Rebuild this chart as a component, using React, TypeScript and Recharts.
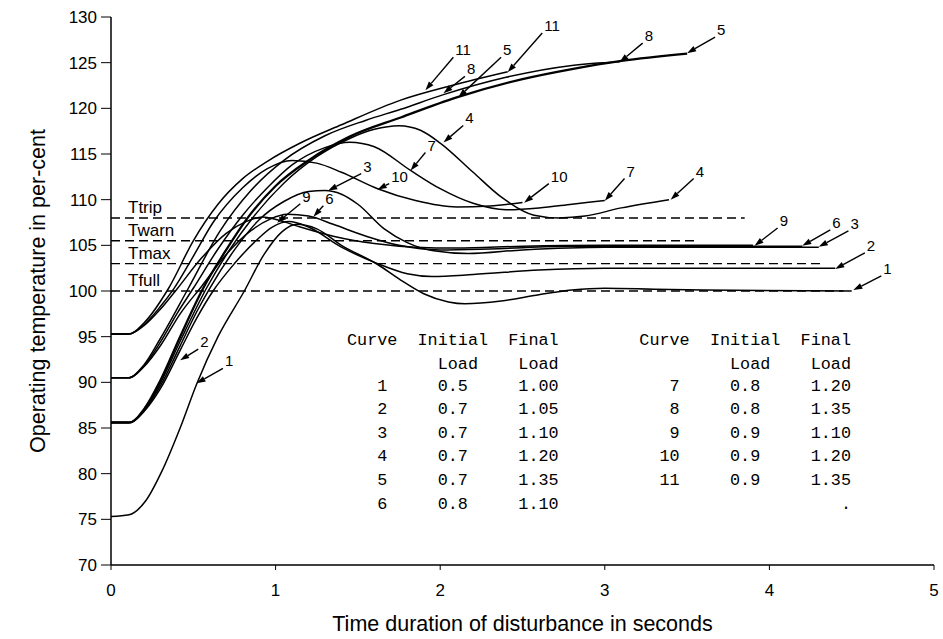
import { LineChart, Line, XAxis, YAxis, ReferenceLine } from "recharts";

const font = "'Liberation Sans', Arial, Helvetica, sans-serif";
const mono = "'Liberation Mono', 'Courier New', monospace";

const xTicks = [0, 1, 2, 3, 4, 5];
const yTicks = [70, 75, 80, 85, 90, 95, 100, 105, 110, 115, 120, 125, 130];

// [seconds, per-cent]
const curve1 = [[0, 75.3], [0.11, 75.5], [0.21, 77], [0.31, 80.3], [0.42, 85], [0.52, 89.8], [0.65, 95], [0.81, 100], [0.93, 104], [1.04, 106.5], [1.13, 107.3], [1.25, 106.8], [1.4, 105], [1.62, 102.9], [1.76, 101.2], [1.9, 99.7], [2.05, 98.8], [2.15, 98.6], [2.37, 98.9], [2.6, 99.6], [2.8, 100.1], [3.0, 100.3], [3.3, 100.2], [3.6, 100.1], [4.5, 100]];
const curve2 = [[0, 85.6], [0.11, 85.6], [0.21, 87], [0.3, 89.3], [0.42, 93.5], [0.52, 97], [0.62, 100], [0.75, 103], [0.88, 105.5], [0.98, 107], [1.08, 107.6], [1.2, 107], [1.4, 104.8], [1.62, 103], [1.8, 101.9], [1.95, 101.6], [2.2, 101.8], [2.6, 102.3], [3.0, 102.5], [4.4, 102.5]];
const curve3 = [[0, 85.6], [0.11, 85.6], [0.21, 87.1], [0.3, 89.6], [0.42, 94], [0.52, 97.7], [0.6, 100.3], [0.75, 104.5], [0.9, 107.8], [1.05, 109.8], [1.2, 110.9], [1.3, 111], [1.4, 110.6], [1.5, 109.5], [1.66, 106.8], [1.8, 105.3], [1.96, 104.4], [2.17, 104.1], [2.5, 104.5], [3.0, 104.8], [4.3, 104.8]];
const curve4 = [[0, 85.6], [0.11, 85.6], [0.21, 87.2], [0.3, 89.9], [0.42, 94.5], [0.58, 100.3], [0.72, 104.5], [0.86, 108], [1.05, 111.8], [1.25, 114.7], [1.45, 116.7], [1.6, 117.7], [1.75, 118.1], [1.88, 117.6], [2.0, 116.2], [2.2, 113], [2.37, 110.3], [2.57, 108.3], [2.72, 108], [2.88, 108.2], [3.1, 109.1], [3.39, 110]];
const curve5 = [[0, 85.6], [0.11, 85.6], [0.21, 87.3], [0.3, 90.2], [0.42, 95], [0.56, 100.3], [0.7, 104.5], [0.83, 108], [1.0, 111.5], [1.2, 114.3], [1.45, 116.9], [1.76, 119], [2.1, 121.2], [2.5, 123.2], [2.8, 124.3], [3.1, 125.2], [3.5, 126]];
const curve6 = [[0, 90.5], [0.11, 90.5], [0.2, 91.7], [0.3, 94], [0.42, 97.5], [0.55, 100.5], [0.7, 104], [0.85, 106.6], [0.97, 107.9], [1.07, 108.4], [1.2, 108.2], [1.35, 107.3], [1.55, 106], [1.75, 105], [2.0, 104.5], [2.3, 104.6], [2.8, 104.9], [4.2, 104.9]];
const curve7 = [[0, 90.5], [0.11, 90.5], [0.2, 91.8], [0.3, 94.4], [0.4, 97.5], [0.5, 100.3], [0.65, 104.6], [0.8, 108.3], [0.95, 111.3], [1.1, 113.8], [1.3, 115.7], [1.45, 116.3], [1.6, 115.8], [1.82, 113.2], [2.0, 111.2], [2.2, 109.6], [2.4, 108.9], [2.6, 109.1], [2.8, 109.5], [3.0, 109.9]];
const curve8 = [[0, 90.5], [0.11, 90.5], [0.2, 91.9], [0.3, 94.8], [0.47, 100.3], [0.66, 106.5], [0.85, 111], [1.05, 114.3], [1.3, 117], [1.55, 118.7], [1.76, 119.9], [2.02, 121.5], [2.4, 123.4], [2.8, 124.7], [3.09, 125.1]];
const curve9 = [[0, 95.3], [0.11, 95.3], [0.2, 96.2], [0.3, 98], [0.4, 100.2], [0.55, 103.6], [0.7, 106.3], [0.82, 107.6], [0.92, 108.1], [1.01, 107.8], [1.15, 107], [1.35, 106], [1.6, 105.2], [1.85, 104.8], [2.1, 104.7], [2.5, 104.9], [3.0, 105], [3.9, 105]];
const curve10 = [[0, 95.3], [0.11, 95.3], [0.2, 96.3], [0.3, 98.3], [0.38, 100.2], [0.5, 103.8], [0.62, 107.5], [0.8, 111.3], [0.95, 113.4], [1.1, 114.3], [1.25, 114], [1.4, 113], [1.62, 111.2], [1.85, 109.9], [2.1, 109.2], [2.3, 109.3], [2.5, 109.7]];
const curve11 = [[0, 95.3], [0.11, 95.3], [0.2, 96.5], [0.35, 100.3], [0.5, 105.5], [0.65, 109.5], [0.8, 112.3], [0.95, 114.2], [1.15, 116.2], [1.4, 118.2], [1.76, 120.9], [2.07, 122.5], [2.41, 124]];

const curves = [curve1, curve2, curve3, curve4, curve5, curve6, curve7, curve8, curve9, curve10, curve11];

const thresholdNames = ["Ttrip", "Twarn", "Tmax", "Tfull"];
const thresholdValues = [108, 105.5, 103, 100];
const thresholdEnds = [3.85, 3.57, 4.33, 4.45];

// curve number labels: text, tail (near text), tip (on the curve)
const arrows = [
  { t: "1", from: [4.68, 101.65], to: [4.51, 100.1] },
  { t: "2", from: [4.58, 104.18], to: [4.4, 102.42] },
  { t: "3", from: [4.48, 106.59], to: [4.3, 104.84] },
  { t: "6", from: [4.37, 106.7], to: [4.2, 104.95] },
  { t: "9", from: [4.05, 106.9], to: [3.91, 104.95] },
  { t: "4", from: [3.54, 112.31], to: [3.4, 110.0] },
  { t: "7", from: [3.12, 112.31], to: [3.0, 109.89] },
  { t: "10", from: [2.66, 111.76], to: [2.51, 109.67] },
  { t: "5", from: [3.67, 127.8], to: [3.5, 126.04] },
  { t: "8", from: [3.23, 127.14], to: [3.09, 125.05] },
  { t: "11", from: [2.62, 128.24], to: [2.41, 123.96] },
  { t: "5", from: [2.37, 125.6], to: [2.11, 121.21] },
  { t: "8", from: [2.15, 123.5], to: [2.02, 121.65] },
  { t: "11", from: [2.08, 125.6], to: [1.91, 121.98] },
  { t: "4", from: [2.14, 118.13], to: [2.02, 116.26] },
  { t: "7", from: [1.91, 115.16], to: [1.82, 113.19] },
  { t: "10", from: [1.69, 111.76], to: [1.62, 111.1] },
  { t: "3", from: [1.52, 112.86], to: [1.32, 110.99] },
  { t: "9", from: [1.15, 109.56], to: [1.01, 107.47] },
  { t: "6", from: [1.29, 109.34], to: [1.23, 108.13] },
  { t: "2", from: [0.53, 93.63], to: [0.42, 92.42] },
  { t: "1", from: [0.68, 91.54], to: [0.52, 89.89] }
];

const leftCurve = ["1", "2", "3", "4", "5", "6"];
const leftInitial = ["0.5", "0.7", "0.7", "0.7", "0.7", "0.8"];
const leftFinal = ["1.00", "1.05", "1.10", "1.20", "1.35", "1.10"];
const rightCurve = ["7", "8", "9", "10", "11"];
const rightInitial = ["0.8", "0.8", "0.9", "0.9", "0.9"];
const rightFinal = ["1.20", "1.35", "1.10", "1.20", "1.35"];
const strayMark = ".";

function Threshold(props: any) {
  const { x1, y1, x2, y2, name } = props;
  return (
    <g>
      <line x1={x1} y1={y1} x2={x2} y2={y2} stroke="#000" strokeWidth={1.4} strokeDasharray="9 5" />
      <text x={x1 + 17} y={y1 - 5} fontSize={17} fontFamily={font} fill="#000">{name}</text>
    </g>
  );
}

function Arrow(props: any) {
  const { x1, y1, x2, y2, text } = props;
  const a = Math.atan2(y2 - y1, x2 - x1);
  const c = Math.cos(a), s = Math.sin(a);
  const bx = x2 - 9 * c, by = y2 - 9 * s;
  return (
    <g>
      <line x1={x1} y1={y1} x2={bx} y2={by} stroke="#000" strokeWidth={1.4} />
      <polygon points={`${x2},${y2} ${bx - 3 * s},${by + 3 * c} ${bx + 3 * s},${by - 3 * c}`} fill="#000" />
      <text x={x1 + 2} y={y1 - 2} fontSize={15} fontFamily={font} fill="#000">{text}</text>
    </g>
  );
}

// monospace table grid
const tx0 = 347;
const cw = 10.08;
const rowY = (i: number) => 385 + i * 23.6 + 5.5;

function Table() {
  const cell = (s: string, col: number, y: number, end = false) => (
    <text key={`${col}-${y}-${s}`} x={tx0 + col * cw} y={y} textAnchor={end ? "end" : "start"}>{s}</text>
  );
  return (
    <g fontFamily={mono} fontSize={16.8} fill="#000">
      {cell("Curve", 0, 345)}
      {cell("Initial", 7, 345)}
      {cell("Final", 16, 345)}
      {cell("Load", 9, 369)}
      {cell("Load", 17, 369)}
      {cell("Curve", 29, 345)}
      {cell("Initial", 36, 345)}
      {cell("Final", 45, 345)}
      {cell("Load", 38, 369)}
      {cell("Load", 46, 369)}
      {leftCurve.map((c, i) => cell(c, 4, rowY(i), true))}
      {leftInitial.map((c, i) => cell(c, 9, rowY(i)))}
      {leftFinal.map((c, i) => cell(c, 17, rowY(i)))}
      {rightCurve.map((c, i) => cell(c, 33, rowY(i), true))}
      {rightInitial.map((c, i) => cell(c, 38, rowY(i)))}
      {rightFinal.map((c, i) => cell(c, 46, rowY(i)))}
      {cell(strayMark, 49, rowY(5))}
    </g>
  );
}

export default function App() {
  const tick = { fill: "#000", fontSize: 17, fontFamily: font };
  return (
    <div style={{ position: "absolute", left: 0, top: 0, width: 943, height: 639, background: "#fff" }}>
      <LineChart width={943} height={639} margin={{ top: 17, right: 9, bottom: 44, left: 51 }}>
        <XAxis
          type="number"
          dataKey="x"
          domain={[0, 5]}
          ticks={xTicks}
          allowDataOverflow
          height={30}
          tickSize={5}
          tickMargin={14}
          tick={tick}
          axisLine={{ stroke: "#000", strokeWidth: 1.5 }}
          tickLine={{ stroke: "#000" }}
          label={{ value: "Time duration of disturbance in seconds", position: "bottom", offset: 21, fill: "#000", fontSize: 21.5, fontFamily: font }}
        />
        <YAxis
          type="number"
          domain={[70, 130]}
          ticks={yTicks}
          interval={0}
          allowDataOverflow
          width={60}
          tickSize={10}
          tickMargin={4}
          tick={tick}
          axisLine={{ stroke: "#000", strokeWidth: 1.5 }}
          tickLine={{ stroke: "#000" }}
        />
        {thresholdNames.map((name, i) => (
          <ReferenceLine
            key={name}
            segment={[{ x: 0, y: thresholdValues[i] }, { x: thresholdEnds[i], y: thresholdValues[i] }]}
            shape={(p: any) => <Threshold {...p} name={name} />}
          />
        ))}
        {curves.map((c, i) => (
          <Line
            key={i}
            data={c.map(([x, y]) => ({ x, y }))}
            dataKey="y"
            type="monotone"
            stroke="#000"
            strokeWidth={i === 4 ? 2.3 : 1.5}
            dot={false}
            activeDot={false}
            isAnimationActive={false}
          />
        ))}
        {arrows.map((a, i) => (
          <ReferenceLine
            key={`a${i}`}
            segment={[{ x: a.from[0], y: a.from[1] }, { x: a.to[0], y: a.to[1] }]}
            shape={(p: any) => <Arrow {...p} text={a.t} />}
          />
        ))}
      </LineChart>
      <svg width={943} height={639} style={{ position: "absolute", left: 0, top: 0, pointerEvents: "none" }}>
        <text x={38} y={291} transform="rotate(-90 38 291)" textAnchor="middle" dominantBaseline="central" fontSize={21.5} fontFamily={font} fill="#000">
          Operating temperature in per-cent
        </text>
        <Table />
      </svg>
    </div>
  );
}
